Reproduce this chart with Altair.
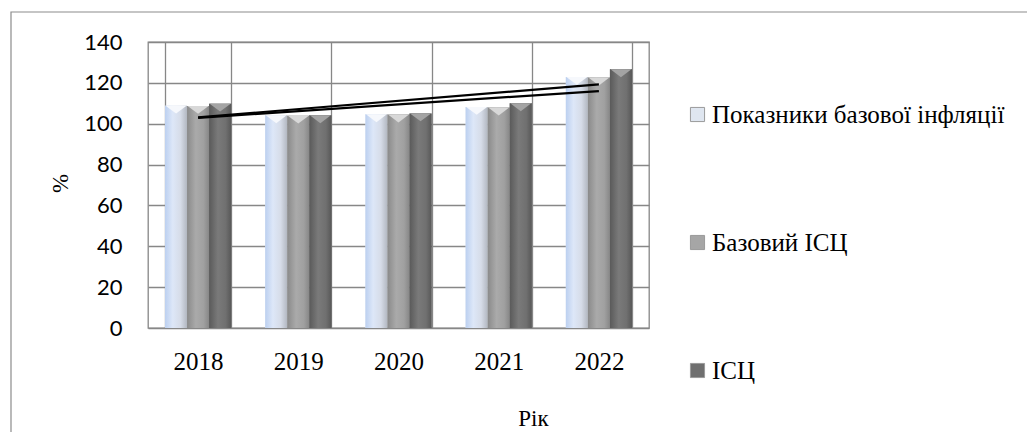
import altair as alt
import pandas as pd

years = ["2018", "2019", "2020", "2021", "2022"]
series = ["Показники базової інфляції", "Базовий ІСЦ", "ІСЦ"]
core_indicators = [108.8, 104.1, 104.6, 108.2, 122.9]
core_cpi = [108.7, 103.9, 104.5, 107.9, 122.6]
cpi = [109.8, 104.1, 105.0, 110.0, 126.6]

trend_names = ["Тренд 1", "Тренд 2"]
trend_years = ["2018", "2022"]
trend_1 = [103.1, 119.3]
trend_2 = [102.9, 116.0]

flat_colors = ["#dfe6f0", "#a6a6a6", "#6f6f6f"]
cap_colors = ["#f6f8fc", "#d8d8d8", "#a4a4a4"]

SERIF = "Liberation Serif"

rows = []
for s, vals in zip(series, [core_indicators, core_cpi, cpi]):
    for y, v in zip(years, vals):
        rows.append({"year": y, "series": s, "value": v})
bars_df = pd.DataFrame(rows)

trend_rows = []
for n, vals in zip(trend_names, [trend_1, trend_2]):
    for y, v in zip(trend_years, vals):
        trend_rows.append({"year": y, "trend": n, "value": v})
trend_df = pd.DataFrame(trend_rows)

x_enc = alt.X(
    "year:N",
    sort=years,
    scale=alt.Scale(paddingInner=0.34, paddingOuter=0.17),
    axis=alt.Axis(
        title="Рік",
        labelAngle=0,
        labelFont=SERIF,
        labelFontSize=25,
        labelColor="#000000",
        labelPadding=21,
        ticks=False,
        domain=False,
        tickBand="extent",
        grid=True,
        gridColor="#878787",
        gridWidth=1.3,
        titleFont=SERIF,
        titleFontSize=23,
        titleFontWeight="normal",
        titleColor="#000000",
        titleX=385,
        titleY=90,
        titleBaseline="middle",
    ),
)
y_enc = alt.Y(
    "value:Q",
    scale=alt.Scale(domain=[0, 140], nice=False),
    axis=alt.Axis(
        title="%",
        values=[0, 20, 40, 60, 80, 100, 120, 140],
        labelFont="Lato",
        labelFontSize=22,
        labelColor="#000000",
        labelPadding=26,
        ticks=False,
        domain=False,
        grid=True,
        gridColor="#878787",
        gridWidth=1.3,
        titleFont=SERIF,
        titleFontSize=23,
        titleFontWeight="normal",
        titleColor="#000000",
        titleX=-88,
        titleY=141,
        titleAngle=-90,
        titleBaseline="middle",
    ),
)
xoff = alt.XOffset("series:N", sort=series, scale=alt.Scale(paddingInner=0, paddingOuter=0))

frame = alt.Chart(pd.DataFrame({"a": [0]})).mark_rect(
    fill="transparent", stroke="#8c8c8c", strokeWidth=1.2
).encode(
    x=alt.value(-137), x2=alt.value(900), y=alt.value(-30), y2=alt.value(430)
)

base = alt.Chart(bars_df).mark_bar().encode(
    x=x_enc,
    xOffset=xoff,
    y=y_enc,
    color=alt.Color(
        "series:N",
        sort=series,
        scale=alt.Scale(domain=series, range=flat_colors),
        legend=alt.Legend(
            title=None,
            orient="none",
            legendX=537,
            legendY=60,
            direction="vertical",
            symbolType="square",
            symbolSize=200,
            symbolStrokeColor="#9a9a9a",
            symbolStrokeWidth=1,
            labelFont=SERIF,
            labelFontSize=25,
            labelColor="#000000",
            labelOffset=2,
            rowPadding=102,
            labelLimit=400,
            padding=0,
        ),
    ),
)

gradients = [
    alt.Gradient(
        gradient="linear", x1=0, x2=1, y1=0, y2=0,
        stops=[
            alt.GradientStop(color="#bcd0f0", offset=0),
            alt.GradientStop(color="#dde7f8", offset=0.35),
            alt.GradientStop(color="#d6dce8", offset=0.7),
            alt.GradientStop(color="#b2b7c0", offset=1),
        ],
    ),
    alt.Gradient(
        gradient="linear", x1=0, x2=1, y1=0, y2=0,
        stops=[
            alt.GradientStop(color="#8a8a8a", offset=0),
            alt.GradientStop(color="#aaaaaa", offset=0.4),
            alt.GradientStop(color="#a0a0a0", offset=0.75),
            alt.GradientStop(color="#878787", offset=1),
        ],
    ),
    alt.Gradient(
        gradient="linear", x1=0, x2=1, y1=0, y2=0,
        stops=[
            alt.GradientStop(color="#5a5a5a", offset=0),
            alt.GradientStop(color="#7a7a7a", offset=0.4),
            alt.GradientStop(color="#707070", offset=0.75),
            alt.GradientStop(color="#585858", offset=1),
        ],
    ),
]

overlays = []
for s, g, cc in zip(series, gradients, cap_colors):
    sub = alt.Chart(bars_df).transform_filter(alt.datum.series == s)
    overlays.append(sub.mark_bar(color=g).encode(x=x_enc, xOffset=xoff, y=y_enc))
    overlays.append(
        sub.mark_point(
            shape="M-1,0L1,0L0,0.75Z", size=440, filled=True, color=cc, opacity=1
        ).encode(x=x_enc, xOffset=xoff, y=y_enc)
    )

trends = alt.Chart(trend_df).mark_line(color="#000000", strokeWidth=2.2).encode(
    x=x_enc,
    y=y_enc,
    detail="trend:N",
)

chart = alt.layer(frame, base, *overlays, trends).properties(
    width=501,
    height=286,
    autosize=alt.AutoSizeParams(type="none"),
    padding={"left": 140, "top": 34, "right": 378, "bottom": 104},
).configure(
    background="#ffffff", font=SERIF
).configure_view(
    stroke="#878787", strokeWidth=1.3
).configure_legend(
    labelFont=SERIF, labelFontSize=25
).configure_axisX(
    labelFont=SERIF, titleFont=SERIF
).configure_axisY(
    titleFont=SERIF
)

chart.save("out.html", embed_options={"renderer": "svg", "actions": False})
